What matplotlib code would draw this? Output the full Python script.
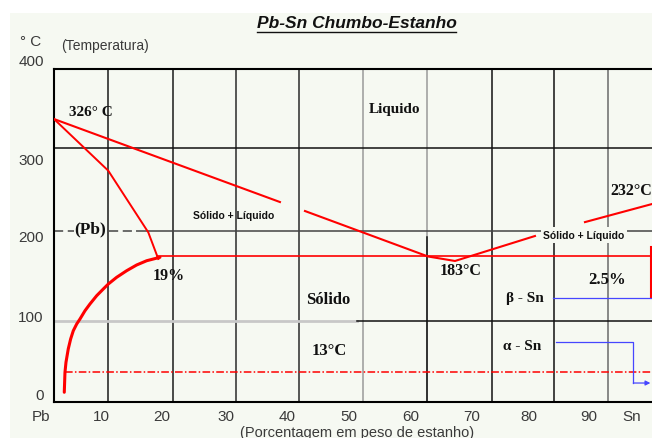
import matplotlib
matplotlib.use("Agg")
import matplotlib.pyplot as plt
import matplotlib.transforms as mtransforms
from matplotlib.patches import Rectangle
from matplotlib.lines import Line2D

# --- dados lidos do diagrama (x = % Sn, t = °C) ---
# linha liquidus esquerda (com falha perto do texto)
liq1_x = [1.13, 36.96]
liq1_t = [339.9, 240.2]
liq2_x = [40.93, 60.44, 64.72, 77.40]
liq2_t = [229.4, 174.8, 169.4, 199.4]
# liquidus do lado do Sn
liq3_x = [85.33, 95.96]
liq3_t = [216.1, 237.8]

# solidus do lado do Pb
sol_x = [1.13, 9.74, 16.08, 17.67]
sol_t = [339.9, 277.8, 203.8, 171.8]

# solvus do Pb (curva)
solvus_x = [2.76, 2.87, 3.03, 3.39, 3.77, 4.19, 4.73, 5.25, 6.04, 6.83, 7.90, 8.94,
            9.74, 11.07, 12.65, 14.24, 15.83, 17.93]
solvus_t = [11.7, 35.7, 47.7, 63.7, 75.7, 85.6, 93.7, 99.7, 109.6, 117.7, 127.7, 135.7,
            141.7, 149.8, 157.7, 164.6, 169.7, 173.8]

# linha eutetica
eut_x = [17.46, 95.96]
eut_t = 175.2

# solvus do Sn
sn_x = 95.75
sn_t = [186.2, 126.1]

# transformacao 13 °C
trans_x = [2.87, 95.96]
trans_t = 36.4

# setas azuis beta / alfa
beta_x = [80.26, 95.8]
beta_t = 124.9
alpha_x = [80.73, 92.99, 92.99]
alpha_t = [71.7, 71.7, 22.8]
alpha_end = 95.7

xtick_labels = ['Pb', '10', '20', '30', '40', '50', '60', '70', '80', '90', 'Sn']
xtick_pos = [-0.94, 8.58, 18.25, 28.40, 38.08, 47.9, 57.74, 67.41, 76.45, 85.96, 92.78]
ytick_labels = ['0', '100', '200', '300', '400']
ytick_pos = [8.4, 102.1, 198.2, 290.7, 409.6]

vgrid = [9.74, 19.95, 29.99, 40.03, 50.08, 60.23, 70.54, 80.46, 89.03]
vgrid_col = ['#1a1a1a', '#1a1a1a', '#2a2a2a', '#2a2a2a', '#9a9a9a', '#9a9a9a', '#111111', '#111111', '#6a6a6a']

bg = '#f6f9f2'
red = '#ff0000'
blue = '#4646ff'

fig = plt.figure(figsize=(6.52, 4.39), dpi=100)
W, H = 652, 439
fig.patches.append(Rectangle((10 / W, 0), 1, 1 - 14 / H, transform=fig.transFigure,
                             facecolor=bg, edgecolor='none', zorder=-10))

ax = fig.add_axes([54 / W, 1 - 403 / H, 598 / W, 333 / H])
ax.set_facecolor('none')
ax.set_xlim(1.13, 95.96)
ax.set_ylim(0, 400)
ax.set_xticks([])
ax.set_yticks([])
for s in ['left', 'top', 'bottom']:
    ax.spines[s].set_color('black')
    ax.spines[s].set_linewidth(1.5)
ax.spines['right'].set_visible(False)

# grade vertical
for gx, gc in zip(vgrid, vgrid_col):
    ax.axvline(gx, color=gc, lw=1.1, zorder=1)
ax.plot([vgrid[5], vgrid[5]], [0, 198], color='#111111', lw=1.1, zorder=1)

# grade horizontal
ax.axhline(304.7, color='#111111', lw=1.1, zorder=1)
ax.plot([1.13, 14.3], [205.8, 205.8], color='#444444', lw=1.1, ls=(0, (6, 3)), zorder=1)
ax.plot([14.3, 95.96], [205.8, 205.8], color='#444444', lw=1.1, zorder=1)
ax.plot([1.13, 49.2], [97.3, 97.3], color='#c8c8c8', lw=2.0, zorder=1)
ax.plot([49.2, 95.96], [97.3, 97.3], color='#111111', lw=1.1, zorder=1)

# curvas
ax.plot(liq1_x, liq1_t, color=red, lw=1.5, zorder=3)
ax.plot(liq2_x, liq2_t, color=red, lw=1.5, zorder=3)
ax.plot(liq3_x, liq3_t, color=red, lw=1.5, zorder=3)
ax.plot(sol_x, sol_t, color=red, lw=1.4, zorder=3)
ax.plot(solvus_x, solvus_t, color=red, lw=2.2, zorder=3,
        solid_joinstyle='round', solid_capstyle='round')
ax.plot(eut_x, [eut_t, eut_t], color=red, lw=1.2, zorder=3)
ax.plot([sn_x, sn_x], sn_t, color=red, lw=1.5, zorder=3, clip_on=False)
ax.plot(trans_x, [trans_t, trans_t], color=red, lw=1.1, ls=(0, (5, 1.5, 1, 1.5)), zorder=3)

ax.plot(beta_x, [beta_t, beta_t], color=blue, lw=0.9, zorder=3)
ax.plot(alpha_x, alpha_t, color=blue, lw=0.9, zorder=3)
ax.annotate('', xy=(alpha_end, alpha_t[-1]), xytext=(alpha_x[-1], alpha_t[-1]),
            arrowprops=dict(arrowstyle='-|>', color=blue, lw=0.9, mutation_scale=7,
                            shrinkA=0, shrinkB=0), zorder=3)

# rotulos
serif = dict(family='Liberation Serif', fontweight='bold', color='#111111',
             ha='center', va='center', zorder=5)
small = dict(family='Liberation Sans', fontweight='bold', color='#111111',
             ha='center', va='center', fontsize=7.5, zorder=5)
ax.text(7.0, 349.5, '326° C', fontsize=11, **serif)
ax.text(55.2, 352, 'Liquido', fontsize=11, **serif)
ax.text(29.67, 225.2, 'Sólido + Líquido', **small)
ax.text(6.92, 208.4, '(Pb)', fontsize=12.5, bbox=dict(facecolor=bg, edgecolor='none', pad=0.5), **serif)
ax.text(19.36, 152.6, '19%', fontsize=11.5, **serif)
ax.text(65.67, 158.6, '183°C', fontsize=11.5, **serif)
ax.text(92.63, 254.7, '232°C', fontsize=11.5, **serif)
ax.text(85.17, 200.6, 'Sólido + Líquido', bbox=dict(facecolor=bg, edgecolor='none', pad=2), **small)
ax.text(88.82, 147.7, '2.5%', fontsize=12, **serif)
ax.text(44.66, 123.7, 'Sólido', fontsize=12, **serif)
ax.text(44.8, 61.9, '13°C', fontsize=12, **serif)
ax.text(75.82, 125.5, 'β - Sn', fontsize=11, **serif)
ax.text(75.42, 67.9, 'α - Sn', fontsize=11, **serif)

# eixos (textos)
tx = mtransforms.blended_transform_factory(ax.transData, ax.transAxes)
ty = mtransforms.blended_transform_factory(ax.transAxes, ax.transData)
for p, lab in zip(xtick_pos, xtick_labels):
    ax.text(p, -0.042, lab, transform=tx, ha='center', va='center', fontsize=11,
            family='Liberation Sans', color='#3a3a3a', clip_on=False)
for p, lab in zip(ytick_pos, ytick_labels):
    ax.text(-0.017, p, lab, transform=ty, ha='right', va='center', fontsize=11,
            family='Liberation Sans', color='#3a3a3a', clip_on=False)

fig.text(31 / W, 1 - 42 / H, '° C', ha='center', va='center', fontsize=11,
         family='Liberation Sans', color='#3a3a3a')
fig.text(105 / W, 1 - 46 / H, '(Temperatura)', ha='center', va='center', fontsize=10,
         family='Liberation Sans', color='#3a3a3a')
fig.text(357 / W, 1 - 433 / H, '(Porcentagem em peso de estanho)', ha='center', va='center',
         fontsize=10.5, family='Liberation Sans', color='#3a3a3a')
title = fig.text(356.5 / W, 1 - 24 / H, 'Pb-Sn Chumbo-Estanho', ha='center', va='center',
                 fontsize=12.5, fontweight='bold', style='italic', family='Liberation Sans',
                 color='#111111')

fig.canvas.draw()
bb = title.get_window_extent()
fig.add_artist(Line2D([bb.x0 / W, bb.x1 / W], [(bb.y0 - 1.5) / H] * 2,
                      transform=fig.transFigure, color='#111111', lw=1.0))

fig.savefig('out.png', dpi=100, facecolor='white')
